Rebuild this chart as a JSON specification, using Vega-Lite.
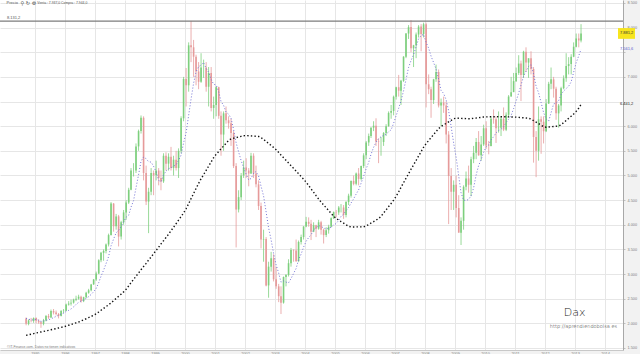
{
"$schema": "https://vega.github.io/schema/vega-lite/v6.json",
"width": 623, "height": 350,
"autosize": {"type": "none"},
"padding": {"left": 0, "top": 0, "right": 17, "bottom": 4},
"background": "#f2f2f2",
"config": {"view": {"fill": "#ffffff", "stroke": null}, "font": "Liberation Sans",
  "locale": {"number": {"decimal": ",", "thousands": ".", "grouping": [3], "currency": ["", " €"]}}},
"datasets": {"m": [
{"d":"1994-09-15","o":2100,"h":2120,"l":1960,"c":1990,"a":2099,"b":1757},
{"d":"1994-10-15","o":1990,"h":2080,"l":1960,"c":2060,"a":2086,"b":1768},
{"d":"1994-11-15","o":2060,"h":2110,"l":2020,"c":2050,"a":2067,"b":1780},
{"d":"1994-12-15","o":2050,"h":2120,"l":2010,"c":2106,"a":2071,"b":1791},
{"d":"1995-01-15","o":2106,"h":2120,"l":2000,"c":2050,"a":2079,"b":1803},
{"d":"1995-02-15","o":2050,"h":2080,"l":1990,"c":2020,"a":2061,"b":1814},
{"d":"1995-03-15","o":2020,"h":2040,"l":1910,"c":1990,"a":2038,"b":1825},
{"d":"1995-04-15","o":1990,"h":2090,"l":1960,"c":2060,"a":2048,"b":1835},
{"d":"1995-05-15","o":2060,"h":2170,"l":2040,"c":2150,"a":2061,"b":1847},
{"d":"1995-06-15","o":2150,"h":2190,"l":2090,"c":2120,"a":2071,"b":1858},
{"d":"1995-07-15","o":2120,"h":2280,"l":2110,"c":2250,"a":2091,"b":1869},
{"d":"1995-08-15","o":2250,"h":2290,"l":2180,"c":2220,"a":2116,"b":1881},
{"d":"1995-09-15","o":2220,"h":2260,"l":2160,"c":2190,"a":2140,"b":1893},
{"d":"1995-10-15","o":2190,"h":2210,"l":2100,"c":2150,"a":2163,"b":1906},
{"d":"1995-11-15","o":2150,"h":2270,"l":2140,"c":2250,"a":2190,"b":1918},
{"d":"1995-12-15","o":2250,"h":2290,"l":2210,"c":2254,"a":2205,"b":1930},
{"d":"1996-01-15","o":2254,"h":2400,"l":2250,"c":2380,"a":2242,"b":1944},
{"d":"1996-02-15","o":2380,"h":2450,"l":2360,"c":2400,"a":2263,"b":1961},
{"d":"1996-03-15","o":2400,"h":2480,"l":2360,"c":2420,"a":2292,"b":1977},
{"d":"1996-04-15","o":2420,"h":2500,"l":2400,"c":2480,"a":2333,"b":1994},
{"d":"1996-05-15","o":2480,"h":2560,"l":2450,"c":2500,"a":2383,"b":2010},
{"d":"1996-06-15","o":2500,"h":2580,"l":2480,"c":2540,"a":2425,"b":2027},
{"d":"1996-07-15","o":2540,"h":2560,"l":2420,"c":2450,"a":2453,"b":2047},
{"d":"1996-08-15","o":2450,"h":2540,"l":2430,"c":2530,"a":2474,"b":2070},
{"d":"1996-09-15","o":2530,"h":2640,"l":2510,"c":2620,"a":2506,"b":2093},
{"d":"1996-10-15","o":2620,"h":2700,"l":2600,"c":2670,"a":2541,"b":2117},
{"d":"1996-11-15","o":2670,"h":2800,"l":2650,"c":2790,"a":2586,"b":2140},
{"d":"1996-12-15","o":2790,"h":2900,"l":2780,"c":2889,"a":2641,"b":2163},
{"d":"1997-01-15","o":2889,"h":3050,"l":2860,"c":3010,"a":2708,"b":2193},
{"d":"1997-02-15","o":3010,"h":3300,"l":3000,"c":3280,"a":2827,"b":2230},
{"d":"1997-03-15","o":3280,"h":3450,"l":3240,"c":3430,"a":2956,"b":2266},
{"d":"1997-04-15","o":3430,"h":3500,"l":3270,"c":3470,"a":3077,"b":2302},
{"d":"1997-05-15","o":3470,"h":3620,"l":3420,"c":3600,"a":3210,"b":2339},
{"d":"1997-06-15","o":3600,"h":3820,"l":3560,"c":3790,"a":3353,"b":2375},
{"d":"1997-07-15","o":3790,"h":4460,"l":3780,"c":4430,"a":3573,"b":2415},
{"d":"1997-08-15","o":4430,"h":4440,"l":3860,"c":3970,"a":3710,"b":2460},
{"d":"1997-09-15","o":3970,"h":4220,"l":3900,"c":4170,"a":3837,"b":2504},
{"d":"1997-10-15","o":4170,"h":4200,"l":3560,"c":3760,"a":3884,"b":2549},
{"d":"1997-11-15","o":3760,"h":4080,"l":3700,"c":4050,"a":3967,"b":2593},
{"d":"1997-12-15","o":4050,"h":4300,"l":4000,"c":4250,"a":4060,"b":2638},
{"d":"1998-01-15","o":4250,"h":4500,"l":4100,"c":4450,"a":4154,"b":2693},
{"d":"1998-02-15","o":4450,"h":4750,"l":4420,"c":4710,"a":4194,"b":2759},
{"d":"1998-03-15","o":4710,"h":5150,"l":4700,"c":5100,"a":4356,"b":2824},
{"d":"1998-04-15","o":5100,"h":5250,"l":4980,"c":5100,"a":4489,"b":2890},
{"d":"1998-05-15","o":5100,"h":5650,"l":5050,"c":5590,"a":4750,"b":2956},
{"d":"1998-06-15","o":5590,"h":5930,"l":5500,"c":5900,"a":5014,"b":3021},
{"d":"1998-07-15","o":5900,"h":6217,"l":5850,"c":6170,"a":5289,"b":3087},
{"d":"1998-08-15","o":6170,"h":6200,"l":4900,"c":5050,"a":5374,"b":3152},
{"d":"1998-09-15","o":5050,"h":5200,"l":4400,"c":4470,"a":5340,"b":3217},
{"d":"1998-10-15","o":4470,"h":4750,"l":3830,"c":4670,"a":5279,"b":3283},
{"d":"1998-11-15","o":4670,"h":5150,"l":4600,"c":5050,"a":5271,"b":3348},
{"d":"1998-12-15","o":5050,"h":5100,"l":4600,"c":5002,"a":5187,"b":3413},
{"d":"1999-01-15","o":5002,"h":5300,"l":4900,"c":5100,"a":5073,"b":3479},
{"d":"1999-02-15","o":5100,"h":5150,"l":4800,"c":4950,"a":4899,"b":3545},
{"d":"1999-03-15","o":4950,"h":5100,"l":4700,"c":4880,"a":4875,"b":3611},
{"d":"1999-04-15","o":4880,"h":5450,"l":4850,"c":5400,"a":5007,"b":3676},
{"d":"1999-05-15","o":5400,"h":5470,"l":5100,"c":5240,"a":5089,"b":3742},
{"d":"1999-06-15","o":5240,"h":5450,"l":5100,"c":5380,"a":5136,"b":3808},
{"d":"1999-07-15","o":5380,"h":5580,"l":5100,"c":5150,"a":5157,"b":3877},
{"d":"1999-08-15","o":5150,"h":5400,"l":5000,"c":5320,"a":5189,"b":3949},
{"d":"1999-09-15","o":5320,"h":5500,"l":5100,"c":5150,"a":5217,"b":4021},
{"d":"1999-10-15","o":5150,"h":5550,"l":4950,"c":5500,"a":5306,"b":4094},
{"d":"1999-11-15","o":5500,"h":6200,"l":5450,"c":6160,"a":5414,"b":4166},
{"d":"1999-12-15","o":6160,"h":7000,"l":6100,"c":6958,"a":5660,"b":4238},
{"d":"2000-01-15","o":6958,"h":7180,"l":6400,"c":6830,"a":5867,"b":4325},
{"d":"2000-02-15","o":6830,"h":7700,"l":6700,"c":7640,"a":6223,"b":4428},
{"d":"2000-03-15","o":7640,"h":8136,"l":7300,"c":7600,"a":6548,"b":4531},
{"d":"2000-04-15","o":7600,"h":7750,"l":7000,"c":7410,"a":6871,"b":4633},
{"d":"2000-05-15","o":7410,"h":7450,"l":6830,"c":7110,"a":7101,"b":4736},
{"d":"2000-06-15","o":7110,"h":7300,"l":6750,"c":6900,"a":7207,"b":4839},
{"d":"2000-07-15","o":6900,"h":7480,"l":6880,"c":7190,"a":7240,"b":4933},
{"d":"2000-08-15","o":7190,"h":7350,"l":6980,"c":7190,"a":7291,"b":5018},
{"d":"2000-09-15","o":7190,"h":7300,"l":6700,"c":6800,"a":7171,"b":5104},
{"d":"2000-10-15","o":6800,"h":7200,"l":6400,"c":7080,"a":7097,"b":5189},
{"d":"2000-11-15","o":7080,"h":7200,"l":6300,"c":6370,"a":6949,"b":5275},
{"d":"2000-12-15","o":6370,"h":6600,"l":6150,"c":6430,"a":6851,"b":5360},
{"d":"2001-01-15","o":6430,"h":6800,"l":6200,"c":6790,"a":6836,"b":5431},
{"d":"2001-02-15","o":6790,"h":6800,"l":6150,"c":6210,"a":6696,"b":5486},
{"d":"2001-03-15","o":6210,"h":6300,"l":5400,"c":5830,"a":6501,"b":5542},
{"d":"2001-04-15","o":5830,"h":6300,"l":5500,"c":6260,"a":6424,"b":5597},
{"d":"2001-05-15","o":6260,"h":6400,"l":6050,"c":6120,"a":6287,"b":5653},
{"d":"2001-06-15","o":6120,"h":6200,"l":5950,"c":6060,"a":6243,"b":5708},
{"d":"2001-07-15","o":6060,"h":6150,"l":5600,"c":5860,"a":6161,"b":5742},
{"d":"2001-08-15","o":5860,"h":5900,"l":5150,"c":5190,"a":5933,"b":5755},
{"d":"2001-09-15","o":5190,"h":5250,"l":3540,"c":4310,"a":5661,"b":5768},
{"d":"2001-10-15","o":4310,"h":4700,"l":4250,"c":4560,"a":5480,"b":5780},
{"d":"2001-11-15","o":4560,"h":5050,"l":4500,"c":5000,"a":5300,"b":5793},
{"d":"2001-12-15","o":5000,"h":5300,"l":4950,"c":5160,"a":5163,"b":5806},
{"d":"2002-01-15","o":5160,"h":5350,"l":4950,"c":5100,"a":5026,"b":5810},
{"d":"2002-02-15","o":5100,"h":5150,"l":4780,"c":5040,"a":4909,"b":5807},
{"d":"2002-03-15","o":5040,"h":5460,"l":5030,"c":5400,"a":4939,"b":5803},
{"d":"2002-04-15","o":5400,"h":5450,"l":4950,"c":5040,"a":5043,"b":5799},
{"d":"2002-05-15","o":5040,"h":5200,"l":4760,"c":4820,"a":5080,"b":5796},
{"d":"2002-06-15","o":4820,"h":4900,"l":4300,"c":4380,"a":4991,"b":5792},
{"d":"2002-07-15","o":4380,"h":4450,"l":3520,"c":3700,"a":4783,"b":5770},
{"d":"2002-08-15","o":3700,"h":3900,"l":3250,"c":3710,"a":4584,"b":5730},
{"d":"2002-09-15","o":3710,"h":3750,"l":2750,"c":2770,"a":4260,"b":5690},
{"d":"2002-10-15","o":2770,"h":3250,"l":2520,"c":3150,"a":3939,"b":5649},
{"d":"2002-11-15","o":3150,"h":3450,"l":3050,"c":3320,"a":3693,"b":5609},
{"d":"2002-12-15","o":3320,"h":3400,"l":2850,"c":2893,"a":3418,"b":5569},
{"d":"2003-01-15","o":2893,"h":3150,"l":2700,"c":2750,"a":3185,"b":5522},
{"d":"2003-02-15","o":2750,"h":2800,"l":2430,"c":2550,"a":3020,"b":5468},
{"d":"2003-03-15","o":2550,"h":2750,"l":2189,"c":2420,"a":2836,"b":5414},
{"d":"2003-04-15","o":2420,"h":2950,"l":2400,"c":2940,"a":2860,"b":5361},
{"d":"2003-05-15","o":2940,"h":3000,"l":2750,"c":2980,"a":2836,"b":5307},
{"d":"2003-06-15","o":2980,"h":3300,"l":2950,"c":3220,"a":2822,"b":5253},
{"d":"2003-07-15","o":3220,"h":3530,"l":3150,"c":3490,"a":2907,"b":5199},
{"d":"2003-08-15","o":3490,"h":3500,"l":3250,"c":3480,"a":3011,"b":5144},
{"d":"2003-09-15","o":3480,"h":3700,"l":3250,"c":3260,"a":3113,"b":5089},
{"d":"2003-10-15","o":3260,"h":3680,"l":3250,"c":3650,"a":3289,"b":5035},
{"d":"2003-11-15","o":3650,"h":3800,"l":3600,"c":3750,"a":3404,"b":4980},
{"d":"2003-12-15","o":3750,"h":3970,"l":3700,"c":3965,"a":3545,"b":4925},
{"d":"2004-01-15","o":3965,"h":4160,"l":3950,"c":4060,"a":3665,"b":4864},
{"d":"2004-02-15","o":4060,"h":4150,"l":3960,"c":4020,"a":3741,"b":4796},
{"d":"2004-03-15","o":4020,"h":4100,"l":3690,"c":3860,"a":3795,"b":4728},
{"d":"2004-04-15","o":3860,"h":4050,"l":3850,"c":3990,"a":3899,"b":4660},
{"d":"2004-05-15","o":3990,"h":4000,"l":3750,"c":3920,"a":3938,"b":4591},
{"d":"2004-06-15","o":3920,"h":4100,"l":3900,"c":4050,"a":3981,"b":4523},
{"d":"2004-07-15","o":4050,"h":4080,"l":3800,"c":3900,"a":3971,"b":4460},
{"d":"2004-08-15","o":3900,"h":3920,"l":3620,"c":3790,"a":3933,"b":4403},
{"d":"2004-09-15","o":3790,"h":3950,"l":3750,"c":3890,"a":3914,"b":4345},
{"d":"2004-10-15","o":3890,"h":4000,"l":3820,"c":3960,"a":3929,"b":4288},
{"d":"2004-11-15","o":3960,"h":4150,"l":3950,"c":4130,"a":3949,"b":4230},
{"d":"2004-12-15","o":4130,"h":4270,"l":4120,"c":4256,"a":3997,"b":4173},
{"d":"2005-01-15","o":4256,"h":4300,"l":4150,"c":4250,"a":4025,"b":4128},
{"d":"2005-02-15","o":4250,"h":4380,"l":4200,"c":4350,"a":4089,"b":4096},
{"d":"2005-03-15","o":4350,"h":4420,"l":4250,"c":4350,"a":4169,"b":4064},
{"d":"2005-04-15","o":4350,"h":4400,"l":4120,"c":4200,"a":4214,"b":4033},
{"d":"2005-05-15","o":4200,"h":4480,"l":4150,"c":4460,"a":4285,"b":4001},
{"d":"2005-06-15","o":4460,"h":4630,"l":4400,"c":4590,"a":4351,"b":3969},
{"d":"2005-07-15","o":4590,"h":4900,"l":4550,"c":4890,"a":4441,"b":3954},
{"d":"2005-08-15","o":4890,"h":5000,"l":4800,"c":4830,"a":4524,"b":3955},
{"d":"2005-09-15","o":4830,"h":5060,"l":4800,"c":5040,"a":4623,"b":3956},
{"d":"2005-10-15","o":5040,"h":5150,"l":4800,"c":4930,"a":4706,"b":3957},
{"d":"2005-11-15","o":4930,"h":5200,"l":4900,"c":5190,"a":4847,"b":3958},
{"d":"2005-12-15","o":5190,"h":5450,"l":5150,"c":5408,"a":4983,"b":3959},
{"d":"2006-01-15","o":5408,"h":5700,"l":5330,"c":5670,"a":5137,"b":3975},
{"d":"2006-02-15","o":5670,"h":5850,"l":5600,"c":5800,"a":5267,"b":4005},
{"d":"2006-03-15","o":5800,"h":5980,"l":5760,"c":5970,"a":5430,"b":4035},
{"d":"2006-04-15","o":5970,"h":6100,"l":5900,"c":6010,"a":5568,"b":4064},
{"d":"2006-05-15","o":6010,"h":6160,"l":5600,"c":5690,"a":5677,"b":4094},
{"d":"2006-06-15","o":5690,"h":5750,"l":5250,"c":5680,"a":5747,"b":4124},
{"d":"2006-07-15","o":5680,"h":5780,"l":5400,"c":5680,"a":5786,"b":4172},
{"d":"2006-08-15","o":5680,"h":5880,"l":5600,"c":5860,"a":5813,"b":4237},
{"d":"2006-09-15","o":5860,"h":6040,"l":5800,"c":6000,"a":5841,"b":4302},
{"d":"2006-10-15","o":6000,"h":6300,"l":5990,"c":6270,"a":5884,"b":4367},
{"d":"2006-11-15","o":6270,"h":6430,"l":6150,"c":6310,"a":5927,"b":4432},
{"d":"2006-12-15","o":6310,"h":6620,"l":6220,"c":6597,"a":6057,"b":4497},
{"d":"2007-01-15","o":6597,"h":6800,"l":6540,"c":6790,"a":6215,"b":4576},
{"d":"2007-02-15","o":6790,"h":7040,"l":6600,"c":6720,"a":6364,"b":4668},
{"d":"2007-03-15","o":6720,"h":6940,"l":6430,"c":6920,"a":6515,"b":4760},
{"d":"2007-04-15","o":6920,"h":7420,"l":6900,"c":7410,"a":6717,"b":4851},
{"d":"2007-05-15","o":7410,"h":7890,"l":7380,"c":7880,"a":6947,"b":4943},
{"d":"2007-06-15","o":7880,"h":8050,"l":7770,"c":8010,"a":7190,"b":5035},
{"d":"2007-07-15","o":8010,"h":8151,"l":7500,"c":7580,"a":7330,"b":5126},
{"d":"2007-08-15","o":7580,"h":7650,"l":7200,"c":7640,"a":7451,"b":5215},
{"d":"2007-09-15","o":7640,"h":7900,"l":7380,"c":7860,"a":7614,"b":5304},
{"d":"2007-10-15","o":7860,"h":8050,"l":7800,"c":8020,"a":7771,"b":5394},
{"d":"2007-11-15","o":8020,"h":8070,"l":7520,"c":7870,"a":7837,"b":5483},
{"d":"2007-12-15","o":7870,"h":8100,"l":7800,"c":8067,"a":7864,"b":5572},
{"d":"2008-01-15","o":8067,"h":8100,"l":6380,"c":6850,"a":7698,"b":5647},
{"d":"2008-02-15","o":6850,"h":7050,"l":6650,"c":6750,"a":7580,"b":5708},
{"d":"2008-03-15","o":6750,"h":6800,"l":6170,"c":6530,"a":7421,"b":5768},
{"d":"2008-04-15","o":6530,"h":6960,"l":6450,"c":6950,"a":7291,"b":5829},
{"d":"2008-05-15","o":6950,"h":7250,"l":6900,"c":7100,"a":7160,"b":5889},
{"d":"2008-06-15","o":7100,"h":7150,"l":6380,"c":6420,"a":6952,"b":5950},
{"d":"2008-07-15","o":6420,"h":6560,"l":6000,"c":6480,"a":6726,"b":5995},
{"d":"2008-08-15","o":6480,"h":6600,"l":6270,"c":6420,"a":6664,"b":6026},
{"d":"2008-09-15","o":6420,"h":6500,"l":5650,"c":5830,"a":6533,"b":6057},
{"d":"2008-10-15","o":5830,"h":5900,"l":4014,"c":4990,"a":6313,"b":6088},
{"d":"2008-11-15","o":4990,"h":5150,"l":4300,"c":4670,"a":5987,"b":6119},
{"d":"2008-12-15","o":4670,"h":4900,"l":4300,"c":4810,"a":5660,"b":6150},
{"d":"2009-01-15","o":4810,"h":5000,"l":4150,"c":4340,"a":5363,"b":6164},
{"d":"2009-02-15","o":4340,"h":4600,"l":3840,"c":3840,"a":4986,"b":6161},
{"d":"2009-03-15","o":3840,"h":4150,"l":3589,"c":4080,"a":4651,"b":6159},
{"d":"2009-04-15","o":4080,"h":4800,"l":3900,"c":4770,"a":4500,"b":6156},
{"d":"2009-05-15","o":4770,"h":5080,"l":4700,"c":4940,"a":4493,"b":6154},
{"d":"2009-06-15","o":4940,"h":5200,"l":4650,"c":4810,"a":4513,"b":6151},
{"d":"2009-07-15","o":4810,"h":5380,"l":4580,"c":5330,"a":4587,"b":6153},
{"d":"2009-08-15","o":5330,"h":5600,"l":5250,"c":5460,"a":4747,"b":6160},
{"d":"2009-09-15","o":5460,"h":5760,"l":5330,"c":5680,"a":5010,"b":6166},
{"d":"2009-10-15","o":5680,"h":5900,"l":5400,"c":5410,"a":5200,"b":6173},
{"d":"2009-11-15","o":5410,"h":5800,"l":5300,"c":5630,"a":5323,"b":6179},
{"d":"2009-12-15","o":5630,"h":6030,"l":5600,"c":5957,"a":5468,"b":6186},
{"d":"2010-01-15","o":5957,"h":6100,"l":5540,"c":5610,"a":5582,"b":6189},
{"d":"2010-02-15","o":5610,"h":5700,"l":5430,"c":5600,"a":5621,"b":6190},
{"d":"2010-03-15","o":5600,"h":6200,"l":5590,"c":6150,"a":5720,"b":6191},
{"d":"2010-04-15","o":6150,"h":6340,"l":6050,"c":6140,"a":5785,"b":6191},
{"d":"2010-05-15","o":6140,"h":6200,"l":5660,"c":5960,"a":5864,"b":6192},
{"d":"2010-06-15","o":5960,"h":6300,"l":5870,"c":5970,"a":5912,"b":6193},
{"d":"2010-07-15","o":5970,"h":6200,"l":5800,"c":6150,"a":5940,"b":6192},
{"d":"2010-08-15","o":6150,"h":6380,"l":5900,"c":5930,"a":5986,"b":6191},
{"d":"2010-09-15","o":5930,"h":6280,"l":5900,"c":6230,"a":6076,"b":6190},
{"d":"2010-10-15","o":6230,"h":6630,"l":6180,"c":6600,"a":6140,"b":6188},
{"d":"2010-11-15","o":6600,"h":7000,"l":6600,"c":6690,"a":6219,"b":6187},
{"d":"2010-12-15","o":6690,"h":7080,"l":6700,"c":6914,"a":6355,"b":6186},
{"d":"2011-01-15","o":6914,"h":7190,"l":6900,"c":7080,"a":6513,"b":6183},
{"d":"2011-02-15","o":7080,"h":7440,"l":7040,"c":7270,"a":6673,"b":6179},
{"d":"2011-03-15","o":7270,"h":7330,"l":6510,"c":7040,"a":6832,"b":6174},
{"d":"2011-04-15","o":7040,"h":7530,"l":6980,"c":7510,"a":7015,"b":6170},
{"d":"2011-05-15","o":7510,"h":7600,"l":7100,"c":7290,"a":7113,"b":6166},
{"d":"2011-06-15","o":7290,"h":7360,"l":6980,"c":7380,"a":7212,"b":6161},
{"d":"2011-07-15","o":7380,"h":7520,"l":7050,"c":7160,"a":7247,"b":6144},
{"d":"2011-08-15","o":7160,"h":7200,"l":5260,"c":5780,"a":7061,"b":6113},
{"d":"2011-09-15","o":5780,"h":5900,"l":4966,"c":5500,"a":6809,"b":6082},
{"d":"2011-10-15","o":5500,"h":6400,"l":5300,"c":6140,"a":6680,"b":6052},
{"d":"2011-11-15","o":6140,"h":6200,"l":5440,"c":6090,"a":6477,"b":6021},
{"d":"2011-12-15","o":6090,"h":6200,"l":5650,"c":5898,"a":6278,"b":5990},
{"d":"2012-01-15","o":5898,"h":6550,"l":5880,"c":6460,"a":6147,"b":5978},
{"d":"2012-02-15","o":6460,"h":6900,"l":6450,"c":6860,"a":6104,"b":5983},
{"d":"2012-03-15","o":6860,"h":7190,"l":6750,"c":6950,"a":6271,"b":5988},
{"d":"2012-04-15","o":6950,"h":7000,"l":6580,"c":6760,"a":6451,"b":5993},
{"d":"2012-05-15","o":6760,"h":6800,"l":6130,"c":6260,"a":6468,"b":5998},
{"d":"2012-06-15","o":6260,"h":6450,"l":5970,"c":6420,"a":6515,"b":6003},
{"d":"2012-07-15","o":6420,"h":6800,"l":6300,"c":6770,"a":6640,"b":6028},
{"d":"2012-08-15","o":6770,"h":7030,"l":6750,"c":6970,"a":6713,"b":6072},
{"d":"2012-09-15","o":6970,"h":7480,"l":6900,"c":7220,"a":6764,"b":6115},
{"d":"2012-10-15","o":7220,"h":7400,"l":7050,"c":7260,"a":6809,"b":6159},
{"d":"2012-11-15","o":7260,"h":7460,"l":7050,"c":7410,"a":6901,"b":6203},
{"d":"2012-12-15","o":7410,"h":7700,"l":7400,"c":7612,"a":7094,"b":6246},
{"d":"2013-01-15","o":7612,"h":7880,"l":7600,"c":7780,"a":7289,"b":6300},
{"d":"2013-02-15","o":7780,"h":7880,"l":7600,"c":7740,"a":7427,"b":6365},
{"d":"2013-03-15","o":7740,"h":8070,"l":7700,"c":7881,"a":7561.6,"b":6441.2}
]},
"layer": [
{"data": {"name": "m"},
 "mark": {"type": "rule", "strokeWidth": 0.8},
 "encoding": {
  "x": {"field": "d", "type": "temporal",
        "scale": {"domain": [{"year": 1994, "month": 1, "date": 1}, {"year": 2014, "month": 6, "date": 8}], "nice": false},
        "axis": {"title": null, "format": "%Y", "tickCount": 40, "values": [{"year":1995},{"year":1996},{"year":1997},{"year":1998},{"year":1999},{"year":2000},{"year":2001},{"year":2002},{"year":2003},{"year":2004},{"year":2005},{"year":2006},{"year":2007},{"year":2008},{"year":2009},{"year":2010},{"year":2011},{"year":2012},{"year":2013},{"year":2014}],
                 "labelFontSize": 3.8, "labelColor": "#808080", "tickSize": 0, "labelPadding": 1, "domainColor": "#c8c8c8", "gridColor": "#e6e6e6", "grid": true, "labelFlush": false, "labelOverlap": false}},
  "y": {"field": "l", "type": "quantitative",
        "scale": {"domain": [1459, 8560], "nice": false, "zero": false},
        "axis": {"title": null, "orient": "right", "tickCount": 40, "values": [1500,2000,2500,3000,3500,4000,4500,5000,5500,6000,6500,7000,7500,8000,8500], "format": ",.0f", "grid": true,
                 "labelExpr": "datum.value == 7500 || datum.value == 6500 ? '' : datum.label",
                 "labelFontSize": 3.8, "labelColor": "#808080", "tickSize": 2, "tickColor": "#c0c0c0", "labelPadding": 2, "domainColor": "#a8a8a8", "gridColor": "#e6e6e6", "labelFlush": false, "labelOverlap": false}},
  "y2": {"field": "h"},
  "color": {"condition": {"test": "datum.c >= datum.o", "value": "#7dcf7d"}, "value": "#e69a9a"}
 }},
{"data": {"name": "m"},
 "mark": {"type": "bar", "size": 1.6},
 "encoding": {
  "x": {"field": "d", "type": "temporal", "scale": {"domain": [{"year": 1994, "month": 1, "date": 1}, {"year": 2014, "month": 6, "date": 8}], "nice": false}, "axis": {"title": null}},
  "y": {"field": "o", "type": "quantitative", "scale": {"domain": [1459, 8560], "nice": false, "zero": false}, "axis": {"title": null}},
  "y2": {"field": "c"},
  "color": {"condition": {"test": "datum.c >= datum.o", "value": "#7dcf7d"}, "value": "#e69a9a"}
 }},
{"data": {"name": "m"},
 "mark": {"type": "line", "color": "#7474d6", "strokeWidth": 1, "strokeDash": [1, 2]},
 "encoding": {
  "x": {"field": "d", "type": "temporal", "scale": {"domain": [{"year": 1994, "month": 1, "date": 1}, {"year": 2014, "month": 6, "date": 8}], "nice": false}, "axis": {"title": null}},
  "y": {"field": "a", "type": "quantitative", "scale": {"domain": [1459, 8560], "nice": false, "zero": false}, "axis": {"title": null}}
 }},
{"data": {"name": "m"},
 "mark": {"type": "line", "color": "#111111", "strokeWidth": 1.4, "strokeDash": [1.4, 2.2]},
 "encoding": {
  "x": {"field": "d", "type": "temporal", "scale": {"domain": [{"year": 1994, "month": 1, "date": 1}, {"year": 2014, "month": 6, "date": 8}], "nice": false}, "axis": {"title": null}},
  "y": {"field": "b", "type": "quantitative", "scale": {"domain": [1459, 8560], "nice": false, "zero": false}, "axis": {"title": null}}
 }},
{"data": {"values": [{}]},
 "mark": {"type": "rule", "color": "#7d7d7d", "strokeWidth": 1.4},
 "encoding": {"y": {"datum": 8131.2, "type": "quantitative", "scale": {"domain": [1459, 8560], "nice": false, "zero": false}, "axis": {"title": null}}}},
{"data": {"values": [{}]},
 "mark": {"type": "rect", "color": "#f7e51d"},
 "encoding": {
  "x": {"datum": {"year": 2014, "month": 6, "date": 8}, "type": "temporal", "scale": {"domain": [{"year": 1994, "month": 1, "date": 1}, {"year": 2014, "month": 6, "date": 8}], "nice": false}, "axis": {"title": null}},
  "x2": {"datum": {"year": 2015, "month": 1, "date": 1}},
  "y": {"datum": 7990, "type": "quantitative", "scale": {"domain": [1459, 8560], "nice": false, "zero": false}, "axis": {"title": null}},
  "y2": {"datum": 7772}}},
{"data": {"values": [{"t": "7.881,2", "v": 7881, "k": "p"}, {"t": "7.561,6", "v": 7561.6, "k": "a"}, {"t": "6.441,2", "v": 6441.2, "k": "b"}]},
 "mark": {"type": "text", "align": "left", "baseline": "middle", "dx": 2, "fontSize": 4},
 "encoding": {
  "x": {"datum": {"year": 2014, "month": 6, "date": 8}, "type": "temporal", "scale": {"domain": [{"year": 1994, "month": 1, "date": 1}, {"year": 2014, "month": 6, "date": 8}], "nice": false}, "axis": {"title": null}},
  "y": {"field": "v", "type": "quantitative", "scale": {"domain": [1459, 8560], "nice": false, "zero": false}, "axis": {"title": null}},
  "text": {"field": "t"},
  "color": {"field": "k", "type": "nominal", "scale": {"domain": ["p", "a", "b"], "range": ["#333333", "#5a5ad0", "#222222"]}, "legend": null}}},
{"data": {"values": [{}]},
 "mark": {"type": "text", "align": "left", "baseline": "bottom", "dy": -1, "fontSize": 4, "color": "#555555", "text": "8.131,2"},
 "encoding": {
  "x": {"datum": {"year": 1994, "month": 1, "date": 25}, "type": "temporal", "scale": {"domain": [{"year": 1994, "month": 1, "date": 1}, {"year": 2014, "month": 6, "date": 8}], "nice": false}, "axis": {"title": null}},
  "y": {"datum": 8131.2, "type": "quantitative", "scale": {"domain": [1459, 8560], "nice": false, "zero": false}, "axis": {"title": null}}}},
{"data": {"values": [{}]},
 "mark": {"type": "text", "align": "left", "baseline": "middle", "fontSize": 4, "color": "#555555", "text": "Precio"},
 "encoding": {
  "x": {"datum": {"year": 1994, "month": 1, "date": 20}, "type": "temporal", "scale": {"domain": [{"year": 1994, "month": 1, "date": 1}, {"year": 2014, "month": 6, "date": 8}], "nice": false}, "axis": {"title": null}},
  "y": {"datum": 8489, "type": "quantitative", "scale": {"domain": [1459, 8560], "nice": false, "zero": false}, "axis": {"title": null}}}},
{"data": {"values": [{}]},
 "mark": {"type": "text", "align": "left", "baseline": "middle", "fontSize": 5, "font": "DejaVu Sans", "color": "#444444", "text": "⚲ ↻ ⚙"},
 "encoding": {
  "x": {"datum": {"year": 1994, "month": 7, "date": 10}, "type": "temporal", "scale": {"domain": [{"year": 1994, "month": 1, "date": 1}, {"year": 2014, "month": 6, "date": 8}], "nice": false}, "axis": {"title": null}},
  "y": {"datum": 8489, "type": "quantitative", "scale": {"domain": [1459, 8560], "nice": false, "zero": false}, "axis": {"title": null}}}},
{"data": {"values": [{}]},
 "mark": {"type": "text", "align": "left", "baseline": "middle", "fontSize": 3.4, "color": "#555555", "text": "Venta : 7.937,0  Compra : 7.944,0"},
 "encoding": {
  "x": {"datum": {"year": 1995, "month": 1, "date": 30}, "type": "temporal", "scale": {"domain": [{"year": 1994, "month": 1, "date": 1}, {"year": 2014, "month": 6, "date": 8}], "nice": false}, "axis": {"title": null}},
  "y": {"datum": 8489, "type": "quantitative", "scale": {"domain": [1459, 8560], "nice": false, "zero": false}, "axis": {"title": null}}}},
{"data": {"values": [{}]},
 "mark": {"type": "text", "align": "left", "baseline": "middle", "fontSize": 3.4, "color": "#7a7a7a", "text": "©IT-Finance.com. Datos no tienen indicativos"},
 "encoding": {
  "x": {"datum": {"year": 1994, "month": 1, "date": 25}, "type": "temporal", "scale": {"domain": [{"year": 1994, "month": 1, "date": 1}, {"year": 2014, "month": 6, "date": 8}], "nice": false}, "axis": {"title": null}},
  "y": {"datum": 1519, "type": "quantitative", "scale": {"domain": [1459, 8560], "nice": false, "zero": false}, "axis": {"title": null}}}},
{"data": {"values": [{}]},
 "mark": {"type": "text", "align": "center", "baseline": "middle", "fontSize": 11, "font": "DejaVu Sans", "fontWeight": 200, "color": "#222222", "text": "Dax"},
 "encoding": {
  "x": {"datum": {"year": 2012, "month": 12, "date": 28}, "type": "temporal", "scale": {"domain": [{"year": 1994, "month": 1, "date": 1}, {"year": 2014, "month": 6, "date": 8}], "nice": false}, "axis": {"title": null}},
  "y": {"datum": 2209, "type": "quantitative", "scale": {"domain": [1459, 8560], "nice": false, "zero": false}, "axis": {"title": null}}}},
{"data": {"values": [{}]},
 "mark": {"type": "text", "align": "center", "baseline": "middle", "fontSize": 5, "font": "DejaVu Sans", "fontWeight": 200, "color": "#222222", "text": "http://aprendiendobolsa.es"},
 "encoding": {
  "x": {"datum": {"year": 2013, "month": 4, "date": 14}, "type": "temporal", "scale": {"domain": [{"year": 1994, "month": 1, "date": 1}, {"year": 2014, "month": 6, "date": 8}], "nice": false}, "axis": {"title": null}},
  "y": {"datum": 1945, "type": "quantitative", "scale": {"domain": [1459, 8560], "nice": false, "zero": false}, "axis": {"title": null}}}}
]
}
